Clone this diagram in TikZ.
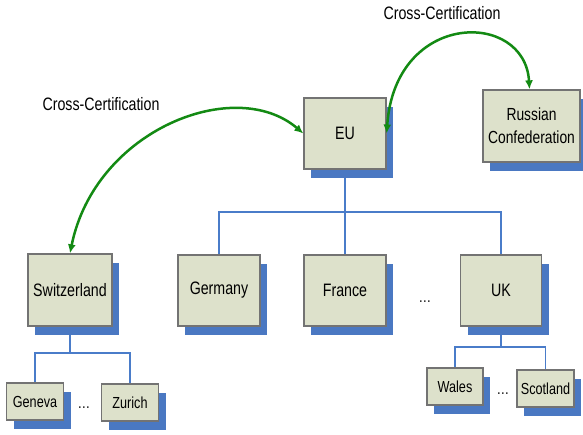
\documentclass[tikz,border=0pt]{standalone}
\usepackage{fontspec}
\setmainfont{Liberation Sans}[FakeStretch=0.79]
\usetikzlibrary{shadows,arrows.meta}
\definecolor{boxfill}{HTML}{DDE1CB}
\definecolor{boxline}{HTML}{737373}
\definecolor{shadowblue}{HTML}{4A78C2}
\definecolor{treeblue}{HTML}{4A7CC9}
\definecolor{arcgreen}{HTML}{138A13}
\definecolor{txt}{HTML}{000000}
\tikzset{
  org/.style={draw=boxline, line width=1.3pt, fill=boxfill, text=txt, inner sep=0pt,
    align=center, drop shadow={shadow xshift=7pt, shadow yshift=-9pt, fill=shadowblue, opacity=1}},
  bigbox/.style={org, minimum width=82pt, minimum height=71pt, font=\fontsize{18}{22}\selectfont},
  smallbox/.style={org, minimum width=57pt, minimum height=37pt, font=\fontsize{16}{20}\selectfont},
  tree/.style={draw=treeblue, line width=1.6pt},
  cross/.style={draw=arcgreen, line width=2.5pt, {Latex[length=9pt,width=8pt]}-{Latex[length=9pt,width=8pt]}},
  lbl/.style={text=txt, font=\fontsize{18}{22}\selectfont, inner sep=0pt},
  dots/.style={text=txt, font=\fontsize{16}{20}\selectfont, inner sep=0pt}
}
\begin{document}
\begin{tikzpicture}[x=1pt,y=-1pt]
\useasboundingbox[fill=white] (0,0) rectangle (583,434);
% coordinates of tree junctions
\coordinate (j1) at (345,212);
\coordinate (j2) at (70,353);
\coordinate (j3) at (501,347);
% tree lines (drawn first)
\path[tree] (345,169) -- (345,255);
\path[tree] (219,255) |- (j1) -| (501,255);
\path[tree] (70,326) -- (j2);
\path[tree] (35,383) |- (j2) -| (130,384);
\path[tree] (501,326) -- (j3);
\path[tree] (455,368) |- (j3) -| (545.5,370);
% boxes
\node[bigbox] (eu) at (345,133.5) {EU};
\node[bigbox, minimum width=97pt, minimum height=72pt, font=\fontsize{17.5}{23}\selectfont] (ru) at (531.5,126) {Russian\\Confederation};
\node[bigbox, minimum width=84pt, minimum height=72pt] (sw) at (70,290) {Switzerland};
\node[bigbox] (de) at (219,290.5) {Germany};
\node[bigbox] (fr) at (345,290.5) {France};
\node[bigbox, minimum width=81pt] (uk) at (501,290.5) {UK};
\node[smallbox] (ge) at (35,401.5) {Geneva};
\node[smallbox] (zu) at (130,402.5) {Zurich};
\node[smallbox, minimum width=56pt] (wa) at (455,386.5) {Wales};
\node[smallbox] (sc) at (545.5,388.5) {Scotland};
% dots
\node[dots] (d1) at (425,302) {\dots};
\node[dots] (d2) at (84,408) {\dots};
\node[dots] (d3) at (503,394) {\dots};
% cross-certification arcs
\draw[cross] (sw.north) .. controls (95,130) and (235,75) .. (eu.west);
\draw[cross] (eu.east) .. controls (395,10) and (525,10) .. ([xshift=-2pt]ru.north);
\node[lbl] (l1) at (101,104) {Cross-Certification};
\node[lbl] (l2) at (442,13) {Cross-Certification};
\end{tikzpicture}
\end{document}
